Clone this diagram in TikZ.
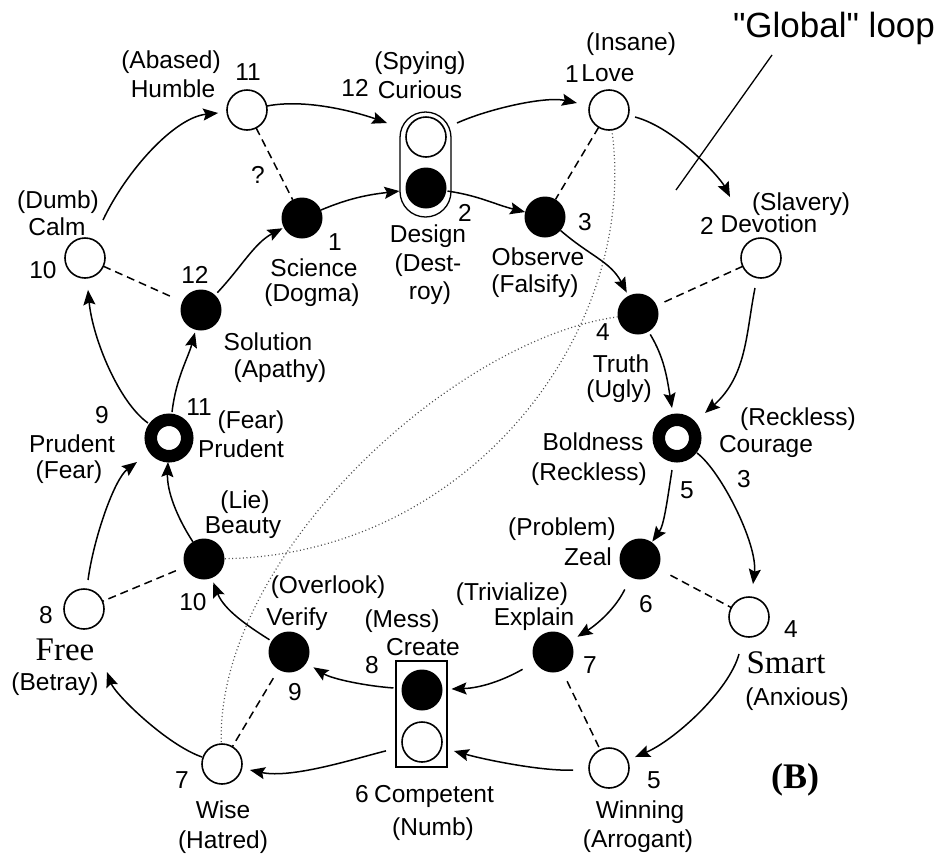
\documentclass[tikz,border=0pt]{standalone}
\usepackage{fontspec}
\setmainfont{Liberation Sans}
\newfontfamily\rawsans{Liberation Sans}
\newfontfamily\tnr{Liberation Serif}
\usetikzlibrary{arrows.meta}
\begin{document}
\begin{tikzpicture}[x=1pt,y=-1pt,
  open/.style={circle,draw,line width=1.6pt,minimum size=40pt,inner sep=0pt,outer sep=0pt,fill=white},
  full/.style={circle,fill=black,minimum size=41pt,inner sep=0pt,outer sep=0pt},
  ring/.style={circle,draw,line width=12.5pt,minimum size=36.5pt,inner sep=0pt,outer sep=0pt},
  holder/.style={draw,line width=1.3pt,minimum width=51pt,inner sep=0pt,outer sep=0pt},
  arr/.style={line width=1.5pt,-{Stealth[length=15pt,width=12pt,inset=2.5pt]}},
  dsh/.style={line width=1.5pt,dash pattern=on 8pt off 5pt},
  dots/.style={line width=1.2pt,dash pattern=on 1pt off 2.6pt,black!70},
  lbl/.style={anchor=base,inner sep=0pt,font=\fontsize{24.5}{29}\selectfont},
  srf/.style={anchor=base,inner sep=0pt,font=\fontsize{33}{38}\selectfont\tnr},
]
\useasboundingbox (0,0) rectangle (942,860);

% holders
\node[holder,rounded corners=25.5pt,minimum height=105pt] (cap) at (425.5,164.5) {};
\node[holder,minimum height=106pt] (box) at (421.5,714) {};

% outer loop
\node[open] (humble) at (247,110) {};
\node[open] (curious) at (426,137) {};
\node[open] (love) at (609,110) {};
\node[open] (devotion) at (761,258) {};
\node[ring] (courage) at (677,438) {};
\node[open] (smart) at (749,617) {};
\node[open] (winning) at (609,768) {};
\node[open] (competent) at (422,742) {};
\node[open] (wise) at (222,764) {};
\node[open] (free) at (84,609) {};
\node[ring] (prudent) at (169,438) {};
\node[open] (calm) at (85,258) {};

% inner loop
\node[full] (science) at (302,218) {};
\node[full] (design) at (426,188) {};
\node[full] (observe) at (545,217) {};
\node[full] (truth) at (638,314) {};
\node[full] (zeal) at (640,559) {};
\node[full] (explain) at (553,652) {};
\node[full] (create) at (422,690) {};
\node[full] (verify) at (289,652) {};
\node[full] (beauty) at (204,559) {};
\node[full] (solution) at (201,310) {};

% dotted curves
\draw[dots] (love) .. controls (640,330) and (470,555) .. (beauty);
\draw[dots] (truth) .. controls (450,340) and (215,560) .. (wise);

% dashed links
\draw[dsh] (humble) -- (science);
\draw[dsh] (love) -- (observe);
\draw[dsh,shorten >=4pt] (devotion) -- (truth);
\draw[dsh,shorten >=10pt] (calm) -- (solution);
\draw[dsh,shorten <=10pt] (beauty) -- (free);
\draw[dsh,shorten <=10pt] (verify) -- (wise);
\draw[dsh,shorten <=12pt] (explain) -- (winning);
\draw[dsh,shorten <=14pt] (zeal) -- (smart);

% outer arrows
\draw[arr,shorten <=22pt,shorten >=9pt] (calm) .. controls (126.4,170.6) and (174.5,117.5) .. (humble);
\draw[arr,shorten >=21.4pt] (humble) .. controls (307,98) and (359.7,113.2) .. (curious);
\draw[arr,shorten <=14pt,shorten >=12.8pt] (curious) .. controls (488,109) and (545,96) .. (love);
\draw[arr,shorten <=7pt,shorten >=48.4pt] (love) .. controls (676.6,128.2) and (720.7,178.7) .. (devotion);
\draw[arr,shorten <=10.6pt,shorten >=19.3pt] (devotion) .. controls (746,333) and (747,375.5) .. (courage);
\draw[arr,shorten <=6.75pt,shorten >=13.2pt] (courage) .. controls (721,471) and (757.8,544.4) .. (smart);
\draw[arr,shorten <=18.3pt,shorten >=8.2pt] (smart) .. controls (729,691) and (674,740.5) .. (winning);
\draw[arr,shorten <=16pt,shorten >=13.2pt] (winning) .. controls (544,771.6) and (486,760) .. (competent);
\draw[arr,shorten <=17.1pt,shorten >=8.6pt] (competent) .. controls (357,758) and (292,779) .. (wise);
\draw[arr,shorten <=1.2pt,shorten >=47.1pt] (wise) .. controls (166,744.4) and (115,694) .. (free);
\draw[arr,shorten <=9.3pt,shorten >=21.75pt] (free) .. controls (94,536.5) and (114.6,478.8) .. (prudent);
\draw[arr,shorten <=7.55pt,shorten >=12.1pt] (prudent) .. controls (118.6,402) and (92.5,338) .. (calm);

% inner arrows
\draw[arr,shorten <=3.3pt,shorten >=1.5pt] (solution) .. controls (241,267.5) and (254.5,243) .. (science);
\draw[arr,shorten >=6.2pt] (science) .. controls (349.5,198) and (368.8,194.6) .. (design);
\draw[arr,shorten <=1.2pt] (design) .. controls (478.5,195.5) and (495,204.5) .. (observe);
\draw[arr,shorten >=3.7pt] (observe) .. controls (590,256) and (610.5,261.5) .. (truth);
\draw[arr,shorten <=3.3pt,shorten >=12.15pt] (truth) .. controls (664.4,358) and (667,378) .. (courage);
\draw[arr,shorten <=14.15pt,shorten >=0.8pt] (courage) .. controls (667,502) and (664,525) .. (zeal);
\draw[arr,shorten <=13.5pt,shorten >=8.3pt] (zeal) .. controls (613,613) and (591.4,628) .. (explain);
\draw[arr,shorten <=14.5pt,shorten >=9pt] (explain) .. controls (502,681) and (480,688) .. (create);
\draw[arr,shorten <=8.1pt,shorten >=8.3pt] (create) .. controls (366,686) and (332,679) .. (verify);
\draw[arr,shorten <=2.5pt,shorten >=4.7pt] (verify) .. controls (247,625.6) and (224,609.6) .. (beauty);
\draw[arr,shorten >=5.75pt] (beauty) .. controls (176.5,516.5) and (166.8,490.8) .. (prudent);
\draw[arr,shorten <=7.9pt,shorten >=2.8pt] (prudent) .. controls (176,378) and (188,358.4) .. (solution);

% global loop pointer
\coordinate (g1) at (772,55);
\coordinate (g2) at (676,190);
\draw[line width=1.3pt] (g1) -- (g2);
\node[anchor=base,inner sep=0pt,font=\fontsize{35}{40}\selectfont\rawsans] (globalt) at (834,37) {"Global" loop};

% labels
\node[lbl] (abased) at (171,68) {(Abased)};
\node[lbl] (humblet) at (173,97) {Humble};
\node[lbl] (n11) at (248,80) {11};
\node[lbl] (spying) at (420,69) {(Spying)};
\node[lbl] (curioust) at (420,98) {Curious};
\node[lbl] (n12) at (355,96) {12};
\node[lbl] (insane) at (631,50) {(Insane)};
\node[lbl] (lovet) at (608,81) {Love};
\node[lbl] (n1) at (572,82) {1};
\node[lbl] (slavery) at (801,210) {(Slavery)};
\node[lbl] (devotiont) at (769,232) {Devotion};
\node[lbl] (n2) at (707,234) {2};
\node[lbl] (dumb) at (58,208) {(Dumb)};
\node[lbl] (calmt) at (57,235) {Calm};
\node[lbl] (n10) at (43,278) {10};
\node[lbl] (qm) at (258,183) {?};
\node[lbl] (n12b) at (195,283) {12};
\node[lbl] (sn1) at (335,250) {1};
\node[lbl] (sciencet) at (314,276) {Science};
\node[lbl] (dogma) at (312,301) {(Dogma)};
\node[lbl] (dn2) at (465,221) {2};
\node[lbl] (designt) at (428,242) {Design};
\node[lbl] (dest) at (428,271) {(Dest-};
\node[lbl] (roy) at (430,299) {roy)};
\node[lbl] (on3) at (585,230) {3};
\node[lbl] (observet) at (538,265) {Observe};
\node[lbl] (falsify) at (535,292) {(Falsify)};
\node[lbl] (solutiont) at (268,350) {Solution};
\node[lbl] (apathy) at (280,377) {(Apathy)};
\node[lbl] (tn4) at (603,340) {4};
\node[lbl] (trutht) at (621,372) {Truth};
\node[lbl] (ugly) at (619,397) {(Ugly)};
\node[lbl] (n9) at (102,423) {9};
\node[lbl] (prudl) at (72,452) {Prudent};
\node[lbl] (fearl) at (69,478) {(Fear)};
\node[lbl] (n11b) at (199,415) {11};
\node[lbl] (fearr) at (251,428) {(Fear)};
\node[lbl] (prudr) at (241,457) {Prudent};
\node[lbl] (boldt) at (593,450) {Boldness};
\node[lbl] (recka) at (589,480) {(Reckless)};
\node[lbl] (reckb) at (798,425) {(Reckless)};
\node[lbl] (couraget) at (766,452) {Courage};
\node[lbl] (cn3) at (744,487) {3};
\node[lbl] (bn5) at (687,498) {5};
\node[lbl] (lie) at (245,508) {(Lie)};
\node[lbl] (beautyt) at (243,533) {Beauty};
\node[lbl] (problem) at (562,535) {(Problem)};
\node[lbl] (zealt) at (588,565) {Zeal};
\node[lbl] (overlook) at (328,593) {(Overlook)};
\node[lbl] (verifyt) at (297,625) {Verify};
\node[lbl] (trivial) at (512,600) {(Trivialize)};
\node[lbl] (explaint) at (534,625) {Explain};
\node[lbl] (mess) at (402,627) {(Mess)};
\node[lbl] (createt) at (423,655) {Create};
\node[lbl] (n8) at (372,673) {8};
\node[lbl] (n7) at (590,673) {7};
\node[lbl] (n6) at (646,612) {6};
\node[lbl] (n4b) at (791,637) {4};
\node[srf] (smartt) at (786,673) {Smart};
\node[lbl] (anxious) at (797,705) {(Anxious)};
\node[lbl] (n8b) at (46,623) {8};
\node[srf] (freet) at (65,660) {Free};
\node[lbl] (betray) at (55,690) {(Betray)};
\node[lbl] (n10b) at (193,610) {10};
\node[lbl] (n9b) at (295,700) {9};
\node[lbl] (n7b) at (182,788) {7};
\node[lbl] (wiset) at (223,818) {Wise};
\node[lbl] (hatred) at (223,848) {(Hatred)};
\node[lbl] (n6b) at (362,802) {6};
\node[lbl] (competentt) at (434,802) {Competent};
\node[lbl] (numb) at (433,835) {(Numb)};
\node[lbl] (n5) at (654,788) {5};
\node[lbl] (winningt) at (640,818) {Winning};
\node[lbl] (arrogant) at (638,847) {(Arrogant)};
\node[anchor=base,inner sep=0pt,font=\fontsize{36}{40}\selectfont\tnr\bfseries] (bt) at (795,788) {(B)};
\end{tikzpicture}
\end{document}
